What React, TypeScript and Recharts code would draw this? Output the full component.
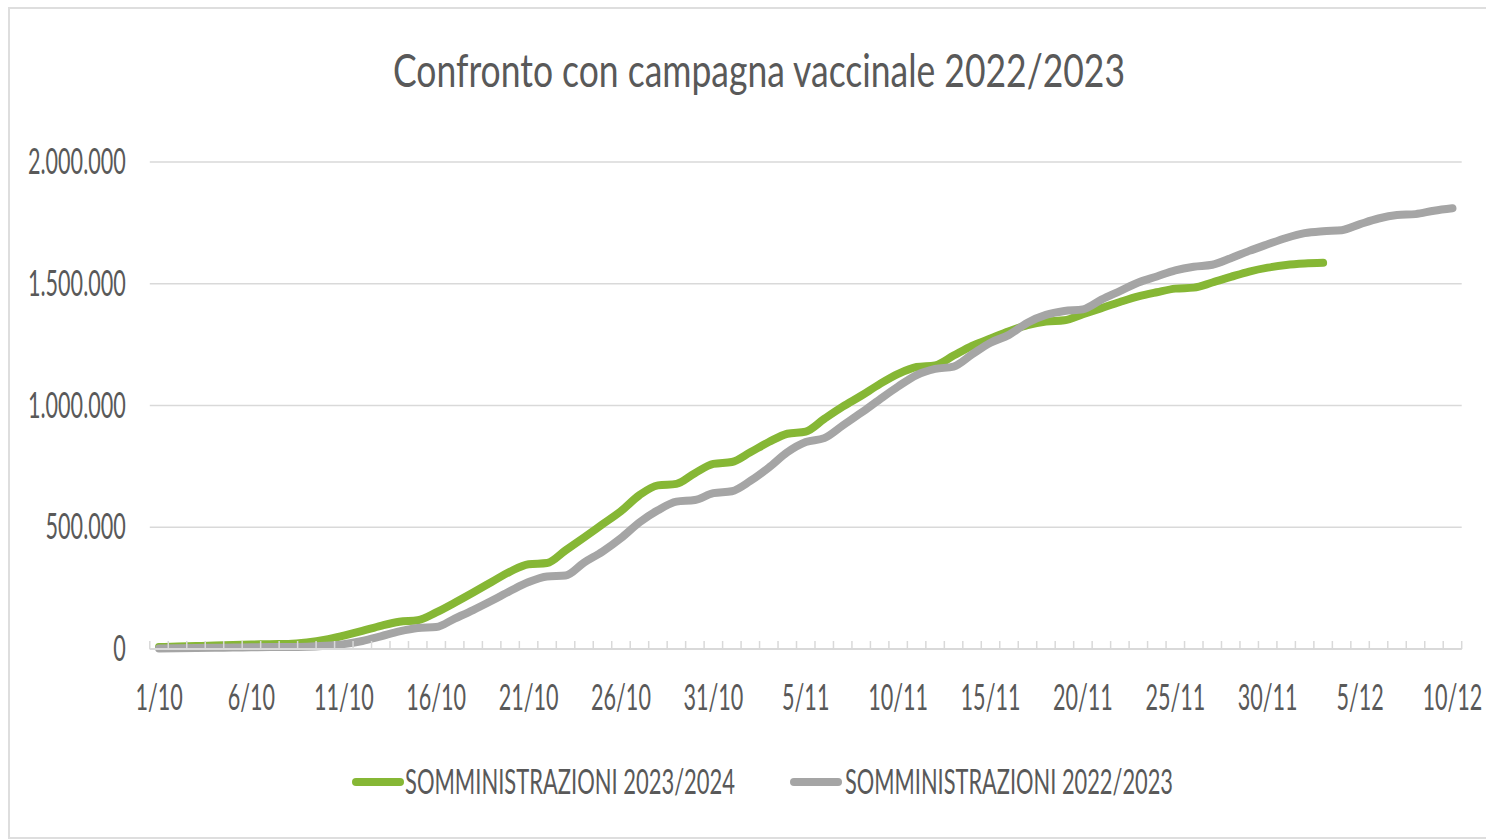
import React from 'react';
import { LineChart, Line, XAxis, YAxis, CartesianGrid, Legend } from 'recharts';

const categories = [
  '1/10', '2/10', '3/10', '4/10', '5/10', '6/10', '7/10', '8/10', '9/10', '10/10',
  '11/10', '12/10', '13/10', '14/10', '15/10', '16/10', '17/10', '18/10', '19/10', '20/10',
  '21/10', '22/10', '23/10', '24/10', '25/10', '26/10', '27/10', '28/10', '29/10', '30/10',
  '31/10', '1/11', '2/11', '3/11', '4/11', '5/11', '6/11', '7/11', '8/11', '9/11',
  '10/11', '11/11', '12/11', '13/11', '14/11', '15/11', '16/11', '17/11', '18/11', '19/11',
  '20/11', '21/11', '22/11', '23/11', '24/11', '25/11', '26/11', '27/11', '28/11', '29/11',
  '30/11', '1/12', '2/12', '3/12', '4/12', '5/12', '6/12', '7/12', '8/12', '9/12',
  '10/12',
];

// SOMMINISTRAZIONI 2023/2024 (cumulative, stops at 3/12)
const somm2023 = [
  8000, 10000, 12000, 14000, 16000, 18000, 20000, 21000, 27000, 38000,
  55000, 74000, 95000, 112000, 118000, 150000, 190000, 232000, 275000, 318000,
  348000, 353000, 405000, 458000, 512000, 566000, 632000, 672000, 678000, 722000,
  760000, 768000, 808000, 850000, 884000, 893000, 945000, 995000, 1040000, 1088000,
  1130000, 1158000, 1165000, 1205000, 1245000, 1275000, 1305000, 1330000, 1345000, 1350000,
  1375000, 1400000, 1425000, 1448000, 1465000, 1480000, 1484000, 1505000, 1528000, 1550000,
  1566000, 1577000, 1583000, 1586000,
];

// SOMMINISTRAZIONI 2022/2023 (cumulative)
const somm2022 = [
  2000, 3000, 4000, 5000, 6000, 7000, 8000, 8000, 9000, 13000,
  20000, 33000, 52000, 72000, 86000, 90000, 125000, 160000, 198000, 238000,
  275000, 298000, 302000, 355000, 400000, 455000, 520000, 570000, 605000, 612000,
  640000, 648000, 690000, 745000, 808000, 850000, 866000, 918000, 970000, 1025000,
  1078000, 1125000, 1150000, 1160000, 1210000, 1258000, 1290000, 1340000, 1372000, 1388000,
  1395000, 1435000, 1470000, 1505000, 1530000, 1555000, 1570000, 1578000, 1605000, 1635000,
  1662000, 1688000, 1708000, 1716000, 1720000, 1745000, 1768000, 1782000, 1786000, 1800000,
  1810000,
];

const yTicks = [0, 500000, 1000000, 1500000, 2000000];

const seriesNames = ['SOMMINISTRAZIONI 2023/2024', 'SOMMINISTRAZIONI 2022/2023'];
const GREEN = '#86b735';
const GREY = '#a5a5a5';
const TEXT = '#595959';
const FONT = 'Lato, "Open Sans", sans-serif';

const data = categories.map((day, i) => ({
  day,
  s2023: i < somm2023.length ? somm2023[i] : null,
  s2022: somm2022[i],
}));

const formatIt = (v: number) => String(v).replace(/\B(?=(\d{3})+(?!\d))/g, '.');

const HALF_BAND = 9.24;

const XTick = (props: any) => {
  const { x, y, payload } = props;
  const index = categories.indexOf(payload.value);
  return (
    <g>
      <line x1={x - HALF_BAND} x2={x - HALF_BAND} y1={y} y2={y - 8} stroke="#d9d9d9" strokeWidth={1.5} />
      {index === categories.length - 1 && (
        <line x1={x + HALF_BAND} x2={x + HALF_BAND} y1={y} y2={y - 8} stroke="#d9d9d9" strokeWidth={1.5} />
      )}
      {index % 5 === 0 && (
        <text
          transform={`translate(${x},${y + 61}) scale(0.6,1)`}
          textAnchor="middle"
          fill={TEXT}
          fontSize={36}
          fontFamily={FONT}
        >
          {payload.value}
        </text>
      )}
    </g>
  );
};

const YTick = (props: any) => {
  const { x, y, payload } = props;
  return (
    <text
      transform={`translate(${x - 24},${y + 12}) scale(0.6,1)`}
      textAnchor="end"
      fill={TEXT}
      fontSize={36}
      fontFamily={FONT}
    >
      {formatIt(payload.value)}
    </text>
  );
};

// legend labels are condensed: scale x by 0.65, stretch to the measured width
const LegendLabel = ({ x, width, label }: { x: number; width: number; label: string }) => (
  <text
    transform={`translate(${x},42) scale(0.65,1)`}
    fill={TEXT}
    fontSize={35}
    fontFamily={FONT}
    textLength={width / 0.65}
    lengthAdjust="spacingAndGlyphs"
  >
    {label}
  </text>
);

const CustomLegend = () => (
  <svg width={1486} height={60} style={{ display: 'block' }}>
    <line x1={356} x2={400} y1={30} y2={30} stroke={GREEN} strokeWidth={8} strokeLinecap="round" />
    <LegendLabel x={405} width={330} label={seriesNames[0]} />
    <line x1={794} x2={838} y1={30} y2={30} stroke={GREY} strokeWidth={8} strokeLinecap="round" />
    <LegendLabel x={845} width={328} label={seriesNames[1]} />
  </svg>
);

const App: React.FC = () => {
  return (
    <div style={{ position: 'absolute', left: 0, top: 0, width: 1486, height: 840, overflow: 'hidden', background: '#fff' }}>
      <svg width={1486} height={840} style={{ position: 'absolute', left: 0, top: 0 }}>
        <rect x={9} y={8} width={1490} height={830} fill="none" stroke="#dedede" strokeWidth={2} />
        <text
          x={759}
          y={87}
          textAnchor="middle"
          fill={TEXT}
          fontSize={46}
          fontFamily={FONT}
          textLength={732}
          lengthAdjust="spacingAndGlyphs"
        >
          Confronto con campagna vaccinale 2022/2023
        </text>
      </svg>
      <div style={{ position: 'absolute', left: 0, top: 0 }}>
        <LineChart width={1486} height={840} data={data} margin={{ top: 162, right: 24.3, left: 0, bottom: 0 }}>
          <CartesianGrid vertical={false} stroke="#d9d9d9" strokeWidth={1.5} />
          <XAxis
            dataKey="day"
            height={191}
            interval={0}
            tickSize={0}
            tickMargin={0}
            tickLine={false}
            axisLine={{ stroke: '#d9d9d9', strokeWidth: 2 }}
            padding={{ left: HALF_BAND, right: HALF_BAND }}
            tick={<XTick />}
          />
          <YAxis
            width={149.8}
            domain={[0, 2000000]}
            ticks={yTicks}
            interval={0}
            tickSize={0}
            tickMargin={0}
            axisLine={false}
            tickLine={false}
            tick={<YTick />}
          />
          <Legend
            layout="horizontal"
            verticalAlign="middle"
            align="center"
            content={<CustomLegend />}
            wrapperStyle={{ left: 0, top: 752, width: 1486 }}
          />
          <Line
            type="monotone"
            dataKey="s2023"
            name={seriesNames[0]}
            stroke={GREEN}
            strokeWidth={8}
            strokeLinecap="round"
            strokeLinejoin="round"
            dot={false}
            activeDot={false}
            connectNulls={false}
            isAnimationActive={false}
          />
          <Line
            type="monotone"
            dataKey="s2022"
            name={seriesNames[1]}
            stroke={GREY}
            strokeWidth={8}
            strokeLinecap="round"
            strokeLinejoin="round"
            dot={false}
            activeDot={false}
            isAnimationActive={false}
          />
        </LineChart>
      </div>
    </div>
  );
};

export default App;
